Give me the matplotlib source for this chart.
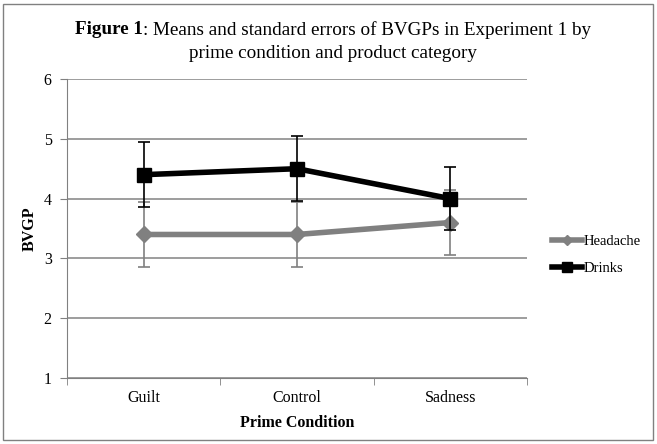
import matplotlib
matplotlib.use("Agg")
import matplotlib.pyplot as plt
from matplotlib.patches import Rectangle

conditions = ["Guilt", "Control", "Sadness"]
headache = [3.4, 3.4, 3.6]
headache_se = [0.54, 0.54, 0.54]
drinks = [4.4, 4.5, 4.0]
drinks_se = [0.54, 0.54, 0.53]

plt.rcParams['font.family'] = ['Liberation Serif', 'DejaVu Serif']

fig = plt.figure(figsize=(6.57, 4.44), dpi=100)
ax = fig.add_axes([67 / 657, 1 - 378 / 444, 460 / 657, 299 / 444])

x = range(len(conditions))
ax.errorbar(x, headache, yerr=headache_se, fmt='none', ecolor='#808080',
            elinewidth=1.2, capsize=4, capthick=1.2, zorder=3)
ax.plot(x, headache, color='#808080', lw=4, marker='D', ms=8,
        label='Headache', zorder=4)
ax.plot(x, drinks, color='black', lw=4, marker='s', ms=10,
        label='Drinks', zorder=5)
ax.errorbar(x, drinks, yerr=drinks_se, fmt='none', ecolor='black',
            elinewidth=1.2, capsize=4, capthick=1.2, zorder=6)

ax.set_xlim(-0.5, 2.5)
ax.set_ylim(1, 6)
ax.set_yticks([1, 2, 3, 4, 5, 6])
ax.set_xticks(x)
ax.set_xticklabels(conditions)
ax.set_xticks([-0.5, 0.5, 1.5, 2.5], minor=True)
ax.tick_params(axis='x', which='major', length=0, labelsize=11.5, pad=9)
ax.tick_params(axis='x', which='minor', length=5, color='#808080')
ax.tick_params(axis='y', length=5, color='#808080', labelsize=11.5, pad=6)
ax.yaxis.grid(True, color='#8c8c8c', lw=1.2)
ax.set_axisbelow(True)
for s in ['top', 'right']:
    ax.spines[s].set_visible(False)
for s in ['left', 'bottom']:
    ax.spines[s].set_color('#808080')
ax.set_xlabel('Prime Condition', fontsize=11.5, fontweight='bold', labelpad=6)
ax.set_ylabel('BVGP', fontsize=11.5, fontweight='bold', labelpad=4)

fig.legend(loc='center left', bbox_to_anchor=(546 / 657, 1 - 255 / 444),
           frameon=False, fontsize=10.5, handlelength=2.1, handletextpad=0.05,
           markerscale=0.7, labelspacing=0.9, borderaxespad=0)

# title: bold "Figure 1" followed by regular text
t1 = fig.text(0, 1 - 30 / 444, 'Figure 1', fontsize=13.8, fontweight='bold',
              va='center')
t2 = fig.text(0, 1 - 30 / 444, ': Means and standard errors of BVGPs in Experiment 1 by',
              fontsize=13.8, va='center')
fig.text(333 / 657, 1 - 53 / 444, 'prime condition and product category',
         fontsize=13.8, ha='center', va='center')
fig.canvas.draw()
r = fig.canvas.get_renderer()
w1 = t1.get_window_extent(r).width
w2 = t2.get_window_extent(r).width
start = 333 - (w1 + w2) / 2
t1.set_x(start / 657)
t2.set_x((start + w1) / 657)

fig.patches.append(Rectangle((3 / 657, 4 / 444), 650 / 657, 436 / 444,
                             transform=fig.transFigure, fill=False,
                             edgecolor='#808080', lw=1))

fig.savefig('out.png', dpi=100)
